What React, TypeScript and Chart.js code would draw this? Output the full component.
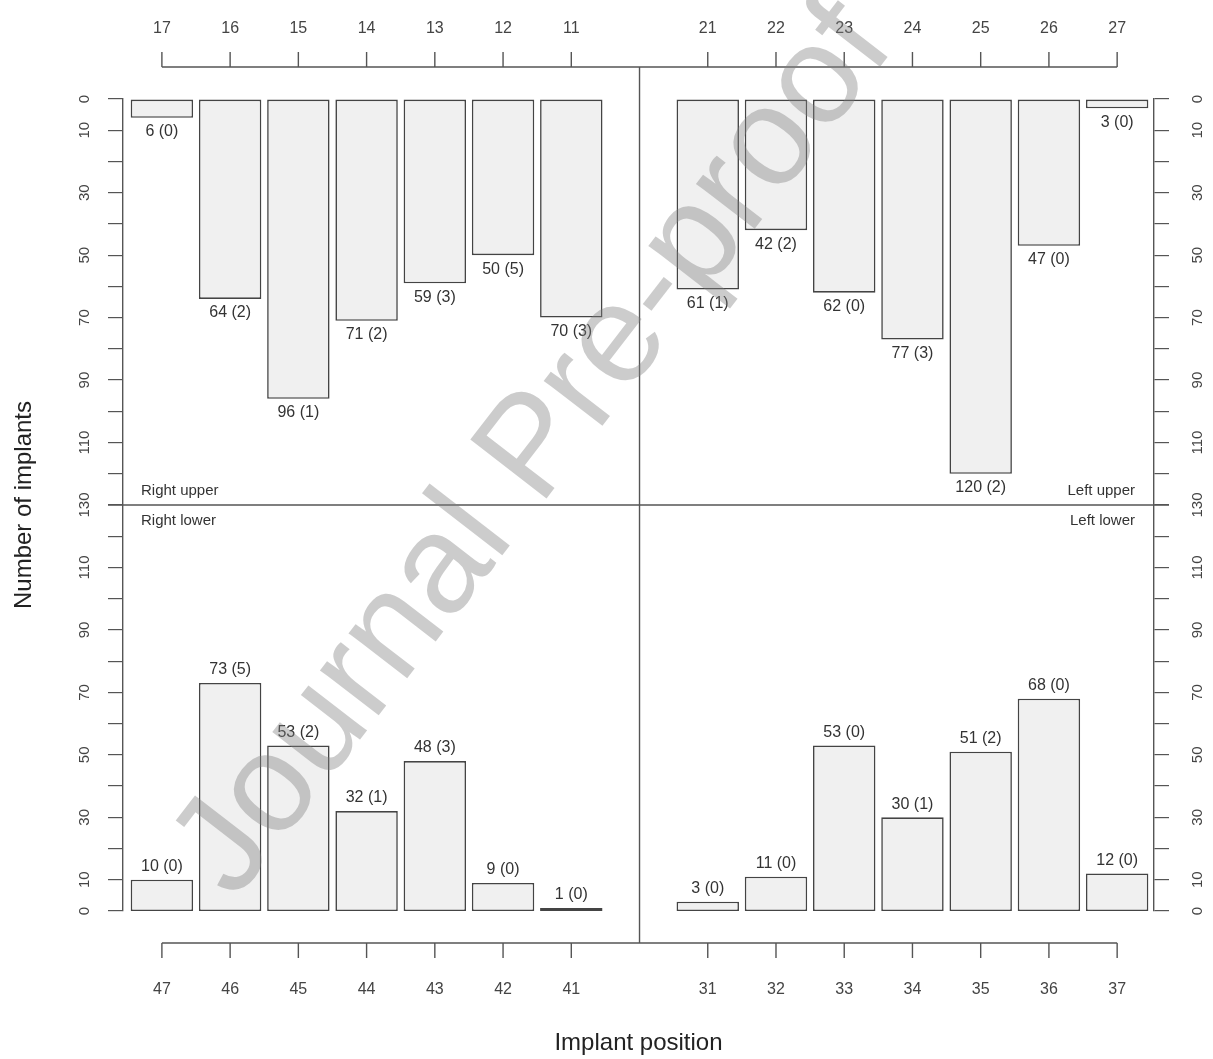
import React, { useEffect, useRef } from 'react';
import { Chart, registerables } from 'chart.js';

Chart.register(...registerables);

// ---- data ----
const upperRightTeeth = ['17', '16', '15', '14', '13', '12', '11'];
const upperLeftTeeth = ['21', '22', '23', '24', '25', '26', '27'];
const lowerRightTeeth = ['47', '46', '45', '44', '43', '42', '41'];
const lowerLeftTeeth = ['31', '32', '33', '34', '35', '36', '37'];

const upperRightCounts = [6, 64, 96, 71, 59, 50, 70];
const upperRightFailures = [0, 2, 1, 2, 3, 5, 3];
const upperLeftCounts = [61, 42, 62, 77, 120, 47, 3];
const upperLeftFailures = [1, 2, 0, 3, 2, 0, 0];
const lowerRightCounts = [10, 73, 53, 32, 48, 9, 1];
const lowerRightFailures = [0, 5, 2, 1, 3, 0, 0];
const lowerLeftCounts = [3, 11, 53, 30, 51, 68, 12];
const lowerLeftFailures = [0, 0, 0, 1, 2, 0, 0];

const yTickLabels = [0, 10, 30, 50, 70, 90, 110, 130];
const yMinorStep = 10;
const AXIS_MAX = 130;
const quadrantLabels = ['Right upper', 'Right lower', 'Left upper', 'Left lower'];
const watermarkText = 'Journal Pre-proof';
const xTitle = 'Implant position';
const yTitle = 'Number of implants';

// ---- layout ----
const W = 1213;
const H = 1059;
const AREA_LEFT = 123;
const AREA_RIGHT = 1154;
const AREA_TOP = 99;
const AREA_BOTTOM = 911;
const X_MIN = 0.43;
const X_MAX = 15.54;
const MID_SLOT = 8;
const FONT = '"Liberation Sans", Arial, Helvetica, sans-serif';

const slotRight = (i: number) => i + 1;
const slotLeft = (i: number) => i + MID_SLOT + 1;

const upperData = [
  ...upperRightCounts.map((v, i) => ({ x: slotRight(i), y: [0, v] })),
  ...upperLeftCounts.map((v, i) => ({ x: slotLeft(i), y: [0, v] })),
];
const lowerData = [
  ...lowerRightCounts.map((v, i) => ({ x: slotRight(i), y: [2 * AXIS_MAX - v, 2 * AXIS_MAX] })),
  ...lowerLeftCounts.map((v, i) => ({ x: slotLeft(i), y: [2 * AXIS_MAX - v, 2 * AXIS_MAX] })),
];

const slotTicks = [
  ...upperRightTeeth.map((_, i) => slotRight(i)),
  ...upperLeftTeeth.map((_, i) => slotLeft(i)),
];

const topLabel = (s: number) => (s < MID_SLOT ? upperRightTeeth[s - 1] : upperLeftTeeth[s - MID_SLOT - 1]) ?? '';
const bottomLabel = (s: number) => (s < MID_SLOT ? lowerRightTeeth[s - 1] : lowerLeftTeeth[s - MID_SLOT - 1]) ?? '';

const yLabel = (value: number) => {
  const v = value <= AXIS_MAX ? value : 2 * AXIS_MAX - value;
  return yTickLabels.includes(v) ? String(v) : '';
};

const yTickBuilder = (scale: any) => {
  const t: { value: number }[] = [];
  for (let v = 0; v <= 2 * AXIS_MAX; v += yMinorStep) t.push({ value: v });
  scale.ticks = t;
};

const AXIS_COLOR = '#555';
const TEXT_COLOR = '#333';

const overlayPlugin = {
  id: 'overlay',
  afterDatasetsDraw(chart: any) {
    const { ctx, chartArea, scales } = chart;
    const x = scales.x;
    const y = scales.y;
    ctx.save();

    // bar value labels
    ctx.font = `16px ${FONT}`;
    ctx.fillStyle = TEXT_COLOR;
    ctx.textAlign = 'center';
    ctx.textBaseline = 'middle';
    const upperSets: [number[], number[], (i: number) => number][] = [
      [upperRightCounts, upperRightFailures, slotRight],
      [upperLeftCounts, upperLeftFailures, slotLeft],
    ];
    upperSets.forEach(([counts, fails, slot]) => {
      counts.forEach((v, i) => {
        ctx.fillText(`${v} (${fails[i]})`, x.getPixelForValue(slot(i)), y.getPixelForValue(v) + 14);
      });
    });
    const lowerSets: [number[], number[], (i: number) => number][] = [
      [lowerRightCounts, lowerRightFailures, slotRight],
      [lowerLeftCounts, lowerLeftFailures, slotLeft],
    ];
    lowerSets.forEach(([counts, fails, slot]) => {
      counts.forEach((v, i) => {
        ctx.fillText(`${v} (${fails[i]})`, x.getPixelForValue(slot(i)), y.getPixelForValue(2 * AXIS_MAX - v) - 13);
      });
    });

    const midY = y.getPixelForValue(AXIS_MAX);
    const midX = x.getPixelForValue(MID_SLOT);

    // quadrant labels
    ctx.font = `15px ${FONT}`;
    ctx.textAlign = 'left';
    ctx.fillText(quadrantLabels[0], chartArea.left + 18, midY - 14);
    ctx.fillText(quadrantLabels[1], chartArea.left + 18, midY + 16);
    ctx.textAlign = 'right';
    ctx.fillText(quadrantLabels[2], chartArea.right - 19, midY - 14);
    ctx.fillText(quadrantLabels[3], chartArea.right - 19, midY + 16);

    // dividers and top/bottom axes
    ctx.strokeStyle = AXIS_COLOR;
    ctx.lineWidth = 1.4;
    const topAxisY = chartArea.top - 32;
    const bottomAxisY = chartArea.bottom + 32;
    ctx.beginPath();
    ctx.moveTo(chartArea.left - 15, midY);
    ctx.lineTo(chartArea.right + 15, midY);
    ctx.moveTo(midX, topAxisY);
    ctx.lineTo(midX, bottomAxisY);
    const first = x.getPixelForValue(slotTicks[0]);
    const last = x.getPixelForValue(slotTicks[slotTicks.length - 1]);
    ctx.moveTo(first, topAxisY);
    ctx.lineTo(last, topAxisY);
    ctx.moveTo(first, bottomAxisY);
    ctx.lineTo(last, bottomAxisY);
    slotTicks.forEach((s) => {
      const px = x.getPixelForValue(s);
      ctx.moveTo(px, topAxisY);
      ctx.lineTo(px, topAxisY - 15);
      ctx.moveTo(px, bottomAxisY);
      ctx.lineTo(px, bottomAxisY + 15);
    });
    ctx.stroke();
    ctx.restore();
  },
  afterDraw(chart: any) {
    const { ctx } = chart;
    ctx.save();
    ctx.translate(535, 450);
    ctx.rotate((-52.3 * Math.PI) / 180);
    ctx.font = `140px ${FONT}`;
    ctx.fillStyle = 'rgba(128,128,128,0.40)';
    ctx.textAlign = 'center';
    ctx.textBaseline = 'middle';
    ctx.fillText(watermarkText, 0, 0);
    ctx.restore();
  },
};

export default function App() {
  const ref = useRef<HTMLCanvasElement>(null);

  useEffect(() => {
    const canvas = ref.current;
    if (!canvas) return;
    const barStyle = {
      backgroundColor: '#f0f0f0',
      borderColor: '#444',
      borderWidth: 1.6,
      borderSkipped: false,
      grouped: false,
      barPercentage: 0.915,
      categoryPercentage: 1,
      xAxisID: 'x',
      yAxisID: 'y',
    };
    const yCommon = {
      type: 'linear',
      min: 0,
      max: 2 * AXIS_MAX,
      reverse: true,
      afterBuildTicks: yTickBuilder,
      grid: { drawOnChartArea: false, drawTicks: true, tickLength: 15, color: AXIS_COLOR, lineWidth: 1.2 },
      border: { display: true, color: AXIS_COLOR, width: 1.4 },
    };
    const xCommon = {
      type: 'linear',
      min: X_MIN,
      max: X_MAX,
      offset: false,
      afterBuildTicks: (scale: any) => {
        scale.ticks = slotTicks.map((v) => ({ value: v }));
      },
      grid: { display: false, drawTicks: false },
      border: { display: false },
    };
    const chart = new Chart(canvas, {
      type: 'bar',
      data: {
        datasets: [
          { label: 'Upper jaw', data: upperData as any, ...barStyle } as any,
          { label: 'Lower jaw', data: lowerData as any, ...barStyle } as any,
        ],
      },
      options: {
        responsive: false,
        animation: false,
        devicePixelRatio: 1,
        layout: { padding: 0 },
        plugins: { legend: { display: false }, tooltip: { enabled: false } },
        scales: {
          x: {
            ...xCommon,
            position: 'bottom',
            ticks: {
              autoSkip: false,
              maxRotation: 0,
              minRotation: 0,
              padding: 69,
              color: '#444',
              font: { family: FONT, size: 16 },
              callback: (v: any) => bottomLabel(Number(v)),
            },
            title: {
              display: true,
              text: xTitle,
              color: '#222',
              font: { family: FONT, size: 24 },
              padding: { top: 0, bottom: 1 },
            },
            afterFit: (s: any) => {
              s.height = H - AREA_BOTTOM;
            },
          },
          xTop: {
            ...xCommon,
            position: 'top',
            ticks: {
              autoSkip: false,
              maxRotation: 0,
              minRotation: 0,
              padding: 61,
              color: '#444',
              font: { family: FONT, size: 16 },
              callback: (v: any) => topLabel(Number(v)),
            },
            afterFit: (s: any) => {
              s.height = AREA_TOP;
            },
          },
          y: {
            ...yCommon,
            position: 'left',
            ticks: {
              autoSkip: false,
              minRotation: 90,
              maxRotation: 90,
              crossAlign: 'center',
              padding: 11,
              color: '#444',
              font: { family: FONT, size: 15 },
              callback: (v: any) => yLabel(Number(v)),
            },
            title: {
              display: true,
              text: yTitle,
              color: '#222',
              font: { family: FONT, size: 24 },
              padding: { top: 10, bottom: 0 },
            },
            afterFit: (s: any) => {
              s.width = AREA_LEFT;
            },
          },
          yRight: {
            ...yCommon,
            position: 'right',
            ticks: {
              autoSkip: false,
              minRotation: 90,
              maxRotation: 90,
              crossAlign: 'center',
              padding: 16,
              color: '#444',
              font: { family: FONT, size: 15 },
              callback: (v: any) => yLabel(Number(v)),
            },
            afterFit: (s: any) => {
              s.width = W - AREA_RIGHT;
            },
          },
        } as any,
      },
      plugins: [overlayPlugin],
    });
    return () => chart.destroy();
  }, []);

  return (
    <div style={{ position: 'absolute', left: 0, top: 0, width: W, height: H, background: '#fff' }}>
      <canvas ref={ref} width={W} height={H} style={{ width: W, height: H, display: 'block' }} />
    </div>
  );
}
